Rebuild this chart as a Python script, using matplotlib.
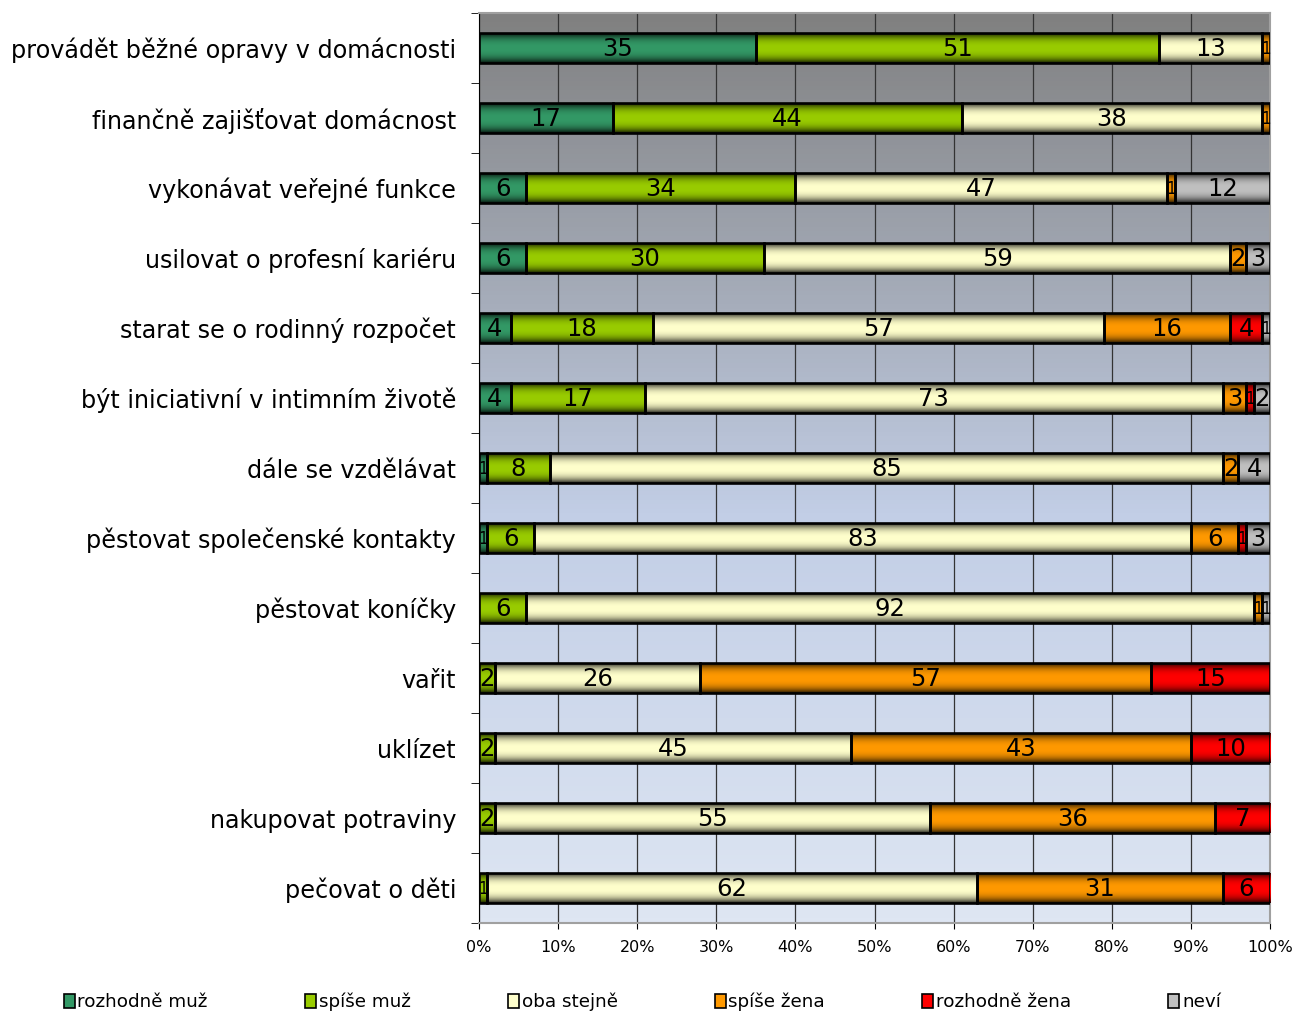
import numpy as np
import matplotlib
matplotlib.use("Agg")
import matplotlib.pyplot as plt
from matplotlib.colors import to_rgb
from matplotlib.patches import Rectangle

categories = [
    "provádět běžné opravy v domácnosti",
    "finančně zajišťovat domácnost",
    "vykonávat veřejné funkce",
    "usilovat o profesní kariéru",
    "starat se o rodinný rozpočet",
    "být iniciativní v intimním životě",
    "dále se vzdělávat",
    "pěstovat společenské kontakty",
    "pěstovat koníčky",
    "vařit",
    "uklízet",
    "nakupovat potraviny",
    "pečovat o děti",
]

series_names = ["rozhodně muž", "spíše muž", "oba stejně", "spíše žena", "rozhodně žena", "neví"]

rozhodne_muz  = [35, 17, 6, 6, 4, 4, 1, 1, 0, 0, 0, 0, 0]
spise_muz     = [51, 44, 34, 30, 18, 17, 8, 6, 6, 2, 2, 2, 1]
oba_stejne    = [13, 38, 47, 59, 57, 73, 85, 83, 92, 26, 45, 55, 62]
spise_zena    = [1, 1, 1, 2, 16, 3, 2, 6, 1, 57, 43, 36, 31]
rozhodne_zena = [0, 0, 0, 0, 4, 1, 0, 1, 0, 15, 10, 7, 6]
nevi          = [0, 0, 12, 3, 1, 2, 4, 3, 1, 0, 0, 0, 0]

series = [rozhodne_muz, spise_muz, oba_stejne, spise_zena, rozhodne_zena, nevi]
colors = ["#339966", "#99CC00", "#FFFFCC", "#FF9900", "#FF0000", "#C0C0C0"]

xticks = [0, 10, 20, 30, 40, 50, 60, 70, 80, 90, 100]


def shaded(color, n=64):
    # dark edges top and bottom, bright in the middle
    t = np.linspace(-1, 1, n)
    k = 1 - 0.85 * np.abs(t) ** 2.6
    c = np.array(to_rgb(color))
    return (k[:, None] * c[None, :])[:, None, :]


fig = plt.figure(figsize=(12.95, 10.11), dpi=100)
ax = fig.add_axes([479 / 1295, 1 - 923 / 1011, (1270 - 479) / 1295, (923 - 13) / 1011])

# background gradient
bg_stops = [(0.0, "#808080"), (0.55, "#C2CEE6"), (1.0, "#DEE6F3")]
ys = np.linspace(0, 1, 200)
bg = np.zeros((200, 1, 3))
for i in range(3):
    bg[:, 0, i] = np.interp(ys, [s[0] for s in bg_stops], [to_rgb(s[1])[i] for s in bg_stops])
ax.imshow(bg, extent=[0, 1, 0, 1], transform=ax.transAxes, aspect="auto", zorder=0)

ypos = np.arange(len(categories))
left = np.zeros(len(categories))
h = 0.42
for name, vals, col in zip(series_names, series, colors):
    vals = np.array(vals, dtype=float)
    bars = ax.barh(ypos, vals, left=left, height=h, color=col, edgecolor="black",
                   linewidth=1.9, zorder=4, label=name)
    for r, v in zip(bars, vals):
        if v <= 0:
            r.set_visible(False)
            continue
        x0, y0, w, hh = r.get_x(), r.get_y(), r.get_width(), r.get_height()
        ax.imshow(shaded(col), extent=[x0, x0 + w, y0 + hh, y0], aspect="auto",
                  interpolation="bilinear", zorder=3)
        r.set_facecolor("none")
        if v > 1:
            ax.text(x0 + w / 2, y0 + hh / 2 + 0.02, "%d" % v, ha="center", va="center",
                    fontsize=17.5, color="black", zorder=5)
        else:
            # 1 % segments are very narrow, squeeze the label
            ax.text(x0 + w / 2, y0 + hh / 2 + 0.02, "1", ha="center", va="center",
                    fontsize=12, color="black", zorder=5, fontstretch="condensed")
    left += vals

ax.set_xlim(0, 100)
ax.set_ylim(len(categories) - 0.5, -0.5)

ax.set_xticks(xticks)
ax.set_xticklabels(["%d%%" % t for t in xticks], fontsize=11.5)
ax.tick_params(axis="x", length=4, pad=8)
ax.grid(axis="x", color="#333333", linewidth=0.9, zorder=1)
ax.set_axisbelow(True)

ax.set_yticks(ypos)
ax.set_yticklabels(categories, fontsize=17.2)
ax.set_yticks(np.arange(len(categories) + 1) - 0.5, minor=True)
ax.tick_params(axis="y", which="major", length=0, pad=16.5)
ax.tick_params(axis="y", which="minor", length=6, color="black")

for s in ["top", "right"]:
    ax.spines[s].set_color("#A0A0A0")
    ax.spines[s].set_linewidth(1.5)
ax.spines["left"].set_color("black")
ax.spines["bottom"].set_color("#A0A0A0")
ax.spines["bottom"].set_linewidth(1.5)

handles = [Rectangle((0, 0), 1, 1, facecolor=c, edgecolor="black", linewidth=1.2) for c in colors]
fig.legend(handles, series_names, loc="center", bbox_to_anchor=(0.496, 0.009), ncol=6,
           frameon=False, handlelength=0.6, handleheight=0.8,
           handletextpad=0.15, columnspacing=5.3,
           prop={"size": 13.2})

fig.savefig("out.png", dpi=100)
